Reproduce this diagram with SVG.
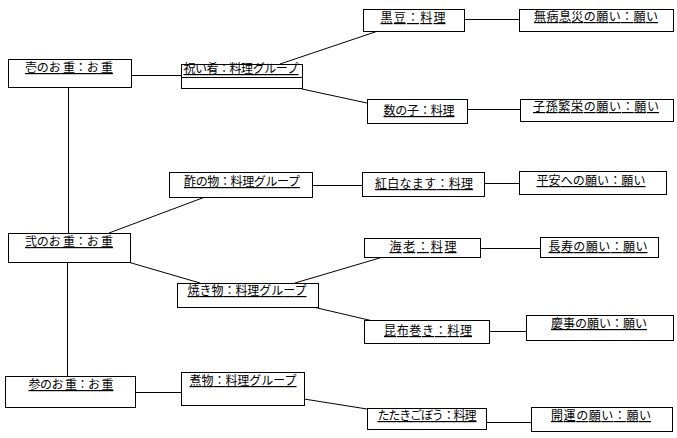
<svg xmlns="http://www.w3.org/2000/svg" width="677" height="438" viewBox="0 0 677 438">
<style>
rect.n{fill:#fff;stroke:#000;stroke-width:1}
line.d{stroke:#000;stroke-width:1}
#edges line{stroke:#000;stroke-width:1}
text{font-family:"Noto Sans CJK JP","Noto Sans CJK SC",sans-serif;font-size:12px;fill:#000;text-anchor:middle;text-decoration:underline}
</style>
<rect x="0" y="0" width="677" height="438" fill="#fff"/>
<g id="edges">
<line x1="131" y1="75.5" x2="181" y2="75.5"/>
<line x1="68.5" y1="87" x2="68.5" y2="233"/>
<line x1="280" y1="64" x2="378" y2="31"/>
<line x1="302" y1="89" x2="367" y2="103"/>
<line x1="464" y1="19.5" x2="519" y2="19.5"/>
<line x1="467" y1="109.5" x2="520" y2="109.5"/>
<line x1="109" y1="233" x2="205" y2="197"/>
<line x1="312" y1="185.5" x2="362" y2="185.5"/>
<line x1="484" y1="183.5" x2="519" y2="183.5"/>
<line x1="128" y1="262" x2="200" y2="283"/>
<line x1="295" y1="283" x2="383" y2="257"/>
<line x1="313" y1="307" x2="373" y2="321"/>
<line x1="480" y1="248.5" x2="540" y2="248.5"/>
<line x1="489" y1="331.5" x2="526" y2="331.5"/>
<line x1="67.5" y1="261" x2="67.5" y2="376"/>
<line x1="135" y1="392.5" x2="181" y2="392.5"/>
<line x1="304" y1="399" x2="367" y2="409"/>
<line x1="486" y1="422.5" x2="531" y2="422.5"/>
</g>
<g id="n1"><rect class="n" x="8.5" y="59.5" width="123" height="28"/><text x="69" y="72" textLength="88">壱のお 重：お 重</text></g>
<g id="n2"><rect class="n" x="181.5" y="64.5" width="121" height="24"/><line class="d" x1="181.5" y1="77.5" x2="302.5" y2="77.5"/><text x="241" y="73" textLength="115">祝い肴：料理グループ</text></g>
<g id="n3"><rect class="n" x="363.5" y="9.5" width="101" height="22"/><text x="413" y="22" textLength="65">黒豆：料理</text></g>
<g id="n4"><rect class="n" x="519.5" y="9.5" width="154" height="22"/><text x="596" y="21" textLength="124">無病息災の願い：願い</text></g>
<g id="n5"><rect class="n" x="367.5" y="99.5" width="100" height="24"/><text x="419" y="115" textLength="71">数の子：料理</text></g>
<g id="n6"><rect class="n" x="520.5" y="99.5" width="153" height="22"/><text x="596" y="111" textLength="126">子孫繁栄の願い：願い</text></g>
<g id="n7"><rect class="n" x="169.5" y="172.5" width="143" height="25"/><text x="242" y="186" textLength="116">酢の物：料理グループ</text></g>
<g id="n8"><rect class="n" x="362.5" y="172.5" width="122" height="24"/><text x="424" y="188" textLength="98">紅白なます：料理</text></g>
<g id="n9"><rect class="n" x="519.5" y="171.5" width="147" height="23"/><text x="591" y="185" textLength="109">平安への願い：願い</text></g>
<g id="n10"><rect class="n" x="8.5" y="233.5" width="122" height="29"/><text x="69" y="246" textLength="88">弐のお 重：お 重</text></g>
<g id="n11"><rect class="n" x="364.5" y="238.5" width="116" height="19"/><text x="423" y="251" textLength="67">海老：料理</text></g>
<g id="n12"><rect class="n" x="540.5" y="237.5" width="118" height="20"/><text x="598" y="251" textLength="99">長寿の願い：願い</text></g>
<g id="n13"><rect class="n" x="177.5" y="283.5" width="141" height="24"/><text x="247" y="295" textLength="119">焼き物：料理グループ</text></g>
<g id="n14"><rect class="n" x="364.5" y="320.5" width="125" height="23"/><text x="428" y="335" textLength="88">昆布巻き：料理</text></g>
<g id="n15"><rect class="n" x="526.5" y="315.5" width="147" height="25"/><text x="599" y="328" textLength="96">慶事の願い：願い</text></g>
<g id="n16"><rect class="n" x="5.5" y="376.5" width="130" height="31"/><text x="71" y="389" textLength="85">参のお 重：お 重</text></g>
<g id="n17"><rect class="n" x="181.5" y="372.5" width="123" height="33"/><text x="243" y="385" textLength="107">煮物：料理グループ</text></g>
<g id="n18"><rect class="n" x="367.5" y="408.5" width="119" height="21"/><text x="427" y="420" textLength="99">たたきごぼう：料理</text></g>
<g id="n19"><rect class="n" x="531.5" y="407.5" width="141" height="24"/><text x="601" y="420" textLength="100">開運の願い：願い</text></g>
</svg>
